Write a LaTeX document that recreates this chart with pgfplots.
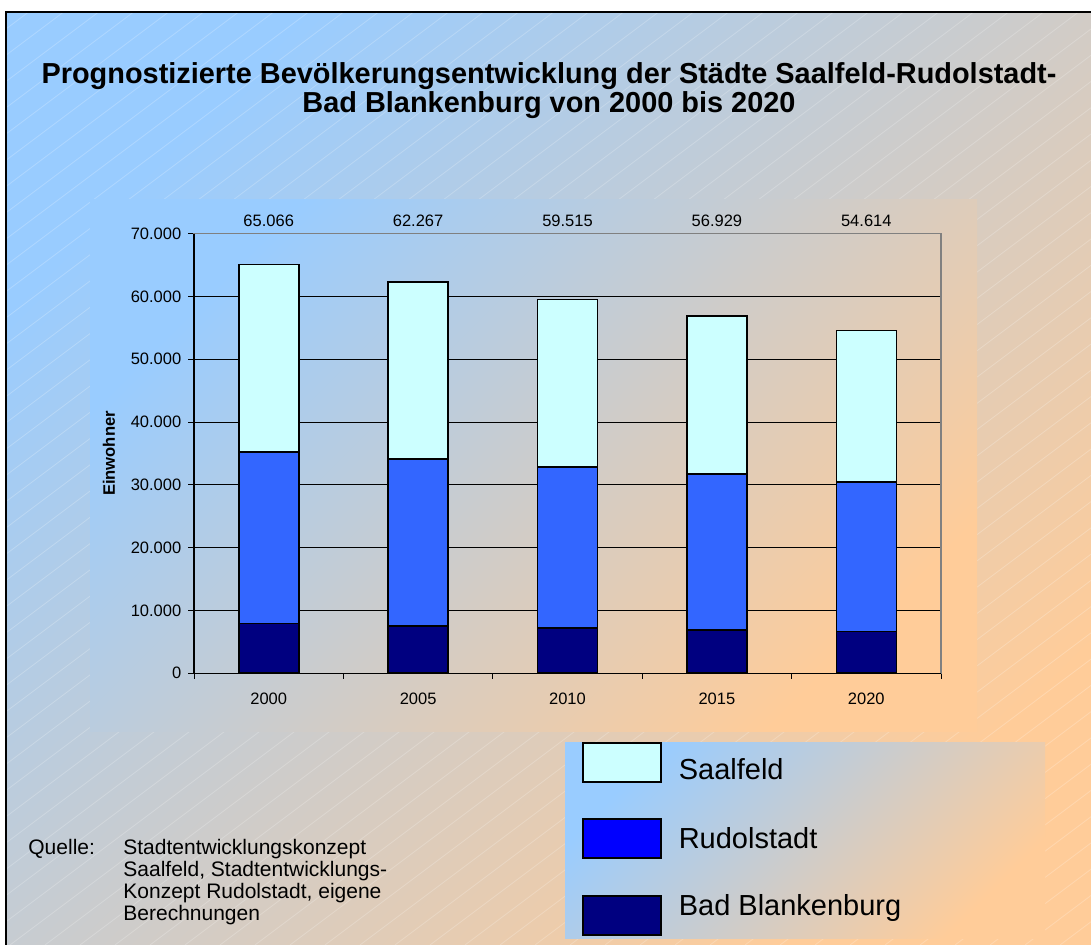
\documentclass[border=0pt]{standalone}
\usepackage{pgfplots}
\pgfplotsset{compat=1.18}
\usepackage{fontspec}
\setmainfont{Liberation Sans}
\definecolor{bgblue}{HTML}{99CCFF}
\definecolor{bgpeach}{HTML}{FFCC99}
\definecolor{saal}{HTML}{CCFFFF}
\definecolor{rudo}{HTML}{3366FF}
\definecolor{rudoleg}{HTML}{0000FF}
\definecolor{bbcol}{HTML}{000080}
\definecolor{framegray}{HTML}{808080}
\tikzset{tot/.style={anchor=base, inner sep=0pt, font=\fontsize{8.25}{10}\selectfont, yshift=3.35pt}}
\begin{document}
\begin{tikzpicture}
\useasboundingbox (0,0) rectangle (545.5pt,472.5pt);
\begin{scope}[x=0.5pt,y=-0.5pt,shift={(0pt,472.5pt)}]
  \fill[white] (0,0) rectangle (1091,945);
  \shade[top color=bgblue,bottom color=bgpeach,shading angle=45] (6,12) rectangle (1091,945);
  \begin{scope}
    \clip (6,12) rectangle (1091,945);
    \foreach \i in {0,...,68}{
      \draw[white,opacity=0.22,line width=0.4pt] ({-1250+35*\i},945) -- ++(1253,-940);
    }
  \end{scope}
  \draw[black,line width=1pt] (6,946) -- (6,12) -- (1092,12);
  \shade[top color=bgblue,bottom color=bgpeach,shading angle=45] (90,200) rectangle (977,732);
  \shade[top color=bgblue,bottom color=bgpeach,shading angle=45] (565,743) rectangle (1045,939);
  \node[anchor=base,inner sep=0pt,font=\bfseries\fontsize{14.45}{14.45}\selectfont] at (549,84) {Prognostizierte Bevölkerungsentwicklung der Städte Saalfeld-Rudolstadt-};
  \node[anchor=base,inner sep=0pt,font=\bfseries\fontsize{14.45}{14.45}\selectfont] at (549,113) {Bad Blankenburg von 2000 bis 2020};
  \begin{scope}[every node/.style={anchor=base west,inner sep=0pt,font=\fontsize{10.5}{11}\selectfont}]
    \node at (28,855) {Quelle:};
    \node at (123,855) {Stadtentwicklungskonzept};
    \node at (123,877) {Saalfeld, Stadtentwicklungs-};
    \node at (123,899) {Konzept Rudolstadt, eigene};
    \node at (123,921) {Berechnungen};
  \end{scope}
\end{scope}
\begin{axis}[
  at={(97pt,135.85pt)}, anchor=south west,
  scale only axis, width=373.5pt, height=219.8pt,
  xmin=-0.5, xmax=4.5, ymin=0, ymax=70000,
  ybar stacked, bar width=30pt,
  clip=false,
  axis line style={draw=framegray, line width=0.75pt},
  tick align=outside, xtick pos=left, ytick pos=left,
  xtick={-0.5,0.5,1.5,2.5,3.5,4.5}, xticklabels={},
  extra x ticks={0,1,2,3,4},
  extra x tick labels={2000,2005,2010,2015,2020},
  extra x tick style={major tick length=0pt, grid=none},
  major tick length=2.85pt,
  tick style={black, line width=0.5pt},
  ytick={0,10000,20000,30000,40000,50000,60000,70000},
  scaled y ticks=false,
  /pgf/number format/assume math mode=true,
  yticklabel style={/pgf/number format/1000 sep={.}},
  xticklabel style={yshift=-6.1pt},
  ymajorgrids, grid style={black, line width=0.5pt},
  ticklabel style={font=\fontsize{8.25}{10}\selectfont},
  ylabel={Einwohner},
  ylabel style={font=\bfseries\fontsize{8.3}{10}\selectfont, at={(axis description cs:-0.1138,0.5)}, anchor=center},
  legend style={at={(0.5194,-0.1529)}, anchor=north west, draw=none, fill=none, inner sep=0pt,
    row sep=16.9pt, font=\fontsize{14.5}{14.5}\selectfont,
    nodes={text depth=0pt, text height=17.4pt},
    cells={anchor=west},
    /tikz/every odd column/.append style={column sep=6.2pt}},
  legend cell align=left,
  reverse legend,
]
\addplot[fill=bbcol, draw=black, line width=0.8pt,
  legend image code/.code={\draw[fill=bbcol,draw=black,line width=1pt] (0pt,-9.75pt) rectangle (39pt,9.75pt);}]
  coordinates {(0,7960) (1,7540) (2,7220) (3,6900) (4,6630)};
\addlegendentry{\raisebox{8.5pt}{Bad Blankenburg}}
\addplot[fill=rudo, draw=black, line width=0.8pt,
  legend image code/.code={\draw[fill=rudoleg,draw=black,line width=1pt] (0pt,-9.75pt) rectangle (39pt,9.75pt);}]
  coordinates {(0,27230) (1,26630) (2,25630) (3,24790) (4,23830)};
\addlegendentry{\raisebox{3.75pt}{Rudolstadt}}
\addplot[fill=saal, draw=black, line width=0.8pt,
  legend image code/.code={\draw[fill=saal,draw=black,line width=1pt] (0pt,-9.75pt) rectangle (39pt,9.75pt);}]
  coordinates {(0,29876) (1,28097) (2,26665) (3,25239) (4,24154)};
\addlegendentry{Saalfeld}
\draw[black, line width=0.75pt] (rel axis cs:0,1) -- (rel axis cs:0,0) -- (rel axis cs:1,0);
\node[tot] at (axis cs:0,70000) {65.066};
\node[tot] at (axis cs:1,70000) {62.267};
\node[tot] at (axis cs:2,70000) {59.515};
\node[tot] at (axis cs:3,70000) {56.929};
\node[tot] at (axis cs:4,70000) {54.614};
\end{axis}
\end{tikzpicture}
\end{document}
